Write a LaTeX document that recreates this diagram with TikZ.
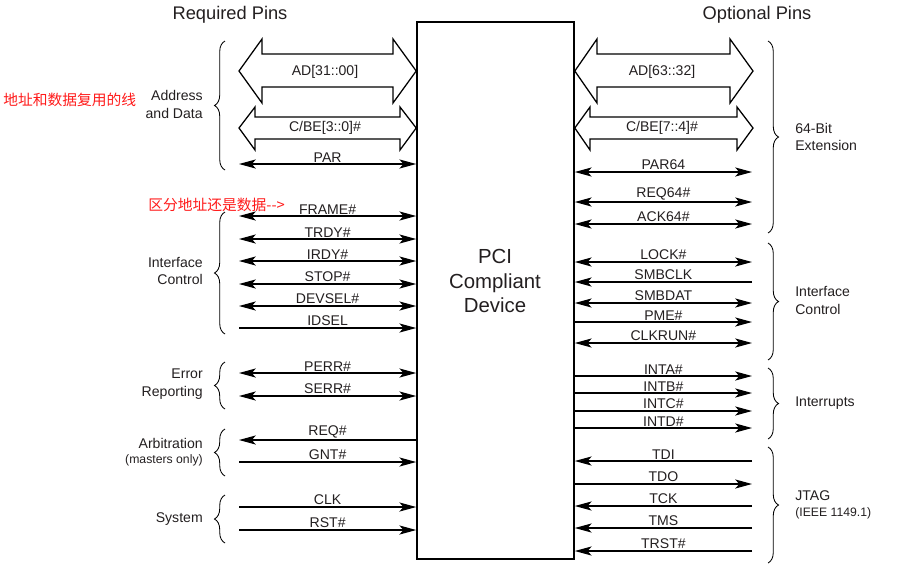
\documentclass[tikz,border=0pt]{standalone}
\usepackage{fontspec}
\setmainfont{Liberation Sans}
\newfontfamily\cjk{Noto Sans CJK SC}
\usepackage{xcolor}
\usetikzlibrary{positioning,arrows.meta,decorations.pathreplacing}
\definecolor{ink}{HTML}{231F20}
\definecolor{remarkred}{HTML}{FF1A1A}

\begin{document}
\begin{tikzpicture}[
  x=0.025cm, y=-0.025cm,
  >={Stealth[length=12pt, width=6.5pt, inset=3pt]},
  pin/.style={line width=0.85pt},
  bidir/.style={pin, <->},
  todev/.style={pin, ->},
  fromdev/.style={pin, <-},
  bus/.style={draw, line width=0.9pt, line join=miter},
  lbl/.style={midway, above, inner sep=1pt, font=\fontsize{10}{12}\selectfont, text=ink},
  buslbl/.style={inner sep=0pt, font=\fontsize{10}{12}\selectfont, text=ink},
  grp/.style={font=\fontsize{10}{12.5}\selectfont, text=ink, inner sep=0pt},
  grpsmall/.style={font=\fontsize{8.7}{10}\selectfont, text=ink, inner sep=0pt},
  brc/.style={decorate, decoration={brace, amplitude=7.5pt}, line width=0.6pt},
  remark/.style={font=\cjk\fontsize{10.5}{12}\selectfont, text=remarkred, inner sep=0pt}
]
\useasboundingbox (0,0) rectangle (899,568);

% Device
\node[draw, line width=1.1pt, minimum width=3.925cm, minimum height=13.425cm, inner sep=0pt] (dev) at (495.5,290.5) {};
\node[font=\fontsize{14.5}{17.5}\selectfont, align=center, text=ink] (devtxt) at (495,281) {PCI\\Compliant\\Device};

% Headings
\node[font=\fontsize{13}{15}\selectfont, text=ink] (reqhead) at (230,15) {Required Pins};
\node[font=\fontsize{13}{15}\selectfont, text=ink] (opthead) at (757,15) {Optional Pins};

% Remarks
\node[remark, anchor=west] (remark1) at (3,100) {地址和数据复用的线};
\node[remark, anchor=west] (remark2) at (148,205) {区分地址还是数据-\kern0pt-\kern0pt>};

% Required pins: address and data
\coordinate (adL) at (239,71);
\draw[bus] (adL) -- (262,39) -- (262,54) -- (393,54) -- (393,39) -- (adL -| dev.west)
  -- (393,103) -- (393,87) -- (262,87) -- (262,103) -- cycle;
\node[buslbl] (adT) at (325,72) {AD[31::00]};

\coordinate (cbeL) at (239,128);
\draw[bus] (cbeL) -- (255,107) -- (255,117) -- (400,117) -- (400,107) -- (cbeL -| dev.west)
  -- (400,150) -- (400,139) -- (255,139) -- (255,150) -- cycle;
\node[buslbl] (cbeT) at (325,128) {C/BE[3::0]\#};

\coordinate (parL) at (239,164);
\draw[bidir] (parL) -- (parL -| dev.west) node[lbl] (parT) {PAR};

\draw[brc] (225,170) -- (225,41);
\node[grp, anchor=east, align=right] (addrgrp) at (203,104.5) {Address\\and Data};

% Required pins: interface control
\coordinate (frameL) at (239,216);
\draw[bidir] (frameL) -- (frameL -| dev.west) node[lbl] (frameT) {FRAME\#};
\coordinate (trdyL) at (239,239);
\draw[bidir] (trdyL) -- (trdyL -| dev.west) node[lbl] (trdyT) {TRDY\#};
\coordinate (irdyL) at (239,261);
\draw[bidir] (irdyL) -- (irdyL -| dev.west) node[lbl] (irdyT) {IRDY\#};
\coordinate (stopL) at (239,284);
\draw[bidir] (stopL) -- (stopL -| dev.west) node[lbl] (stopT) {STOP\#};
\coordinate (devselL) at (239,306);
\draw[bidir] (devselL) -- (devselL -| dev.west) node[lbl] (devselT) {DEVSEL\#};
\coordinate (idselL) at (239,328);
\draw[todev] (idselL) -- (idselL -| dev.west) node[lbl] (idselT) {IDSEL};

\draw[brc] (225,334) -- (225,212);
\node[grp, anchor=east, align=right] (ifcgrp) at (203,271) {Interface\\Control};

% Required pins: error reporting
\coordinate (perrL) at (239,373);
\draw[bidir] (perrL) -- (perrL -| dev.west) node[lbl] (perrT) {PERR\#};
\coordinate (serrL) at (239,396);
\draw[bidir] (serrL) -- (serrL -| dev.west) node[lbl] (serrT) {SERR\#};

\draw[brc] (225,409) -- (225,362);
\node[grp, anchor=east, align=right] (errgrp) at (203,384) {Error\\Reporting};

% Required pins: arbitration
\coordinate (reqL) at (239,440);
\draw[fromdev] (reqL) -- (reqL -| dev.west) node[lbl] (reqT) {REQ\#};
\coordinate (gntL) at (239,462);
\draw[todev] (gntL) -- (gntL -| dev.west) node[lbl] (gntT) {GNT\#};

\draw[brc] (225,476) -- (225,429);
\node[grp, anchor=east] (arbgrp) at (203,443) {Arbitration};
\node[grpsmall, anchor=east] (arbsub) at (203,460) {(masters only)};

% Required pins: system
\coordinate (clkL) at (239,507);
\draw[todev] (clkL) -- (clkL -| dev.west) node[lbl] (clkT) {CLK};
\coordinate (rstL) at (239,530);
\draw[todev] (rstL) -- (rstL -| dev.west) node[lbl] (rstT) {RST\#};

\draw[brc] (225,543) -- (225,495);
\node[grp, anchor=east] (sysgrp) at (203,519) {System};

% Optional pins: 64-bit extension
\coordinate (ad64R) at (753,71);
\draw[bus] (ad64R) -- (730,39) -- (730,54) -- (597,54) -- (597,39) -- (ad64R -| dev.east)
  -- (597,103) -- (597,87) -- (730,87) -- (730,103) -- cycle;
\node[buslbl] (ad64T) at (662,72) {AD[63::32]};

\coordinate (cbe64R) at (753,128);
\draw[bus] (cbe64R) -- (737,107) -- (737,117) -- (590,117) -- (590,107) -- (cbe64R -| dev.east)
  -- (590,150) -- (590,139) -- (737,139) -- (737,150) -- cycle;
\node[buslbl] (cbe64T) at (662,128) {C/BE[7::4]\#};

\coordinate (par64R) at (752,172);
\draw[bidir] (par64R) -- (par64R -| dev.east) node[lbl] (par64T) {PAR64};
\coordinate (req64R) at (752,202);
\draw[bidir] (req64R) -- (req64R -| dev.east) node[lbl] (req64T) {REQ64\#};
\coordinate (ack64R) at (752,224);
\draw[bidir] (ack64R) -- (ack64R -| dev.east) node[lbl] (ack64T) {ACK64\#};

\draw[brc] (768,41) -- (768,233);
\node[grp, anchor=west, align=left] (extgrp) at (795,137) {64-Bit\\Extension};

% Optional pins: interface control
\coordinate (lockR) at (752,262);
\draw[bidir] (lockR) -- (lockR -| dev.east) node[lbl] (lockT) {LOCK\#};
\coordinate (smbclkR) at (752,282);
\draw[todev] (smbclkR) -- (smbclkR -| dev.east) node[lbl] (smbclkT) {SMBCLK};
\coordinate (smbdatR) at (752,303);
\draw[bidir] (smbdatR) -- (smbdatR -| dev.east) node[lbl] (smbdatT) {SMBDAT};
\coordinate (pmeR) at (752,322);
\draw[fromdev] (pmeR) -- (pmeR -| dev.east) node[lbl] (pmeT) {PME\#};
\coordinate (clkrunR) at (752,343);
\draw[bidir] (clkrunR) -- (clkrunR -| dev.east) node[lbl] (clkrunT) {CLKRUN\#};

\draw[brc] (768,243) -- (768,360);
\node[grp, anchor=west, align=left] (ifc64grp) at (795,300.5) {Interface\\Control};

% Optional pins: interrupts
\coordinate (intaR) at (752,376);
\draw[fromdev] (intaR) -- (intaR -| dev.east) node[lbl] (intaT) {INTA\#};
\coordinate (intbR) at (752,393);
\draw[fromdev] (intbR) -- (intbR -| dev.east) node[lbl] (intbT) {INTB\#};
\coordinate (intcR) at (752,411);
\draw[fromdev] (intcR) -- (intcR -| dev.east) node[lbl] (intcT) {INTC\#};
\coordinate (intdR) at (752,428);
\draw[fromdev] (intdR) -- (intdR -| dev.east) node[lbl] (intdT) {INTD\#};

\draw[brc] (768,368) -- (768,439);
\node[grp, anchor=west] (intgrp) at (795,403) {Interrupts};

% Optional pins: JTAG
\coordinate (tdiR) at (752,461);
\draw[todev] (tdiR) -- (tdiR -| dev.east) node[lbl] (tdiT) {TDI};
\coordinate (tdoR) at (752,484);
\draw[fromdev] (tdoR) -- (tdoR -| dev.east) node[lbl] (tdoT) {TDO};
\coordinate (tckR) at (752,506);
\draw[todev] (tckR) -- (tckR -| dev.east) node[lbl] (tckT) {TCK};
\coordinate (tmsR) at (752,528);
\draw[todev] (tmsR) -- (tmsR -| dev.east) node[lbl] (tmsT) {TMS};
\coordinate (trstR) at (752,551);
\draw[todev] (trstR) -- (trstR -| dev.east) node[lbl] (trstT) {TRST\#};

\draw[brc] (768,447) -- (768,563);
\node[grp, anchor=west] (jtaggrp) at (795,496) {JTAG};
\node[grpsmall, anchor=west] (jtagsub) at (795,513) {(IEEE 1149.1)};

\end{tikzpicture}
\end{document}
